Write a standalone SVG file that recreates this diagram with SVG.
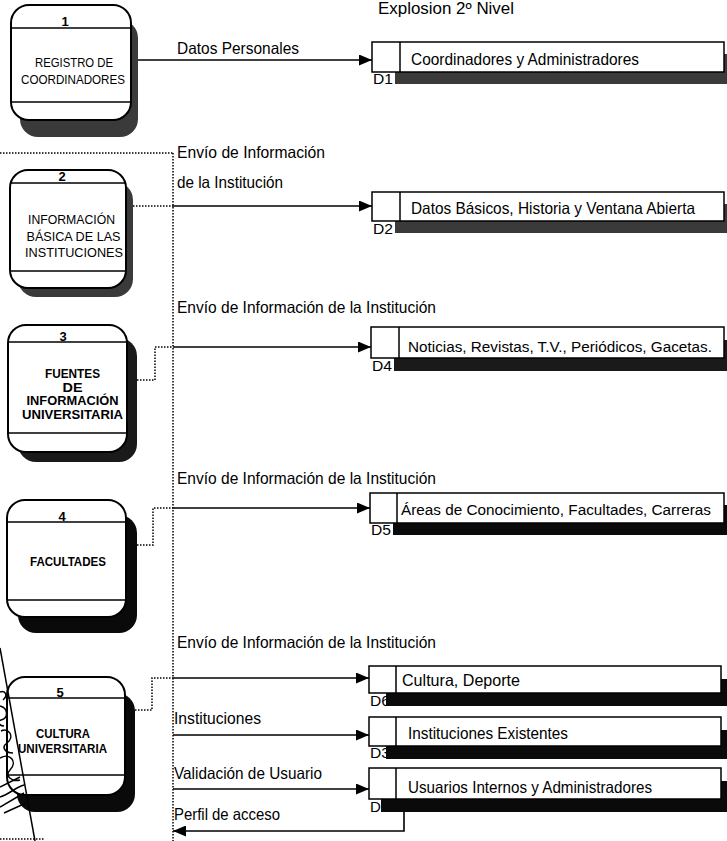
<svg xmlns="http://www.w3.org/2000/svg" width="727" height="841" viewBox="0 0 727 841">
<defs>
<style>
.node{fill:#fff;stroke:#000;stroke-width:2}
.sh1{fill:#3a3a3a}
.sh2{fill:#1a1a1a}
.sh3{fill:#0a0a0a}
.sep{stroke:#000;stroke-width:1.5}
.nt{font-family:"Liberation Sans",Arial,sans-serif;font-size:13px;text-anchor:middle;fill:#000}
.nb{font-weight:bold}
.num{font-family:"Liberation Sans",Arial,sans-serif;font-size:13px;text-anchor:middle;fill:#000;font-weight:bold}
.lbl{font-family:"Liberation Sans",Arial,sans-serif;font-size:16.5px;fill:#000}
.lbs{font-size:15.2px}
.st{fill:#fff;stroke:#000;stroke-width:1.5}
.dl{font-family:"Liberation Sans",Arial,sans-serif;font-size:15px;fill:#000}
.solid{stroke:#000;stroke-width:1.6;fill:none}
.dot{stroke:#000;stroke-width:1.5;fill:none;stroke-dasharray:1.5 1.5}
.scr{stroke:#000;stroke-width:1.5;fill:none}
</style>
<marker id="ah" markerUnits="userSpaceOnUse" markerWidth="13" markerHeight="11" refX="13" refY="5.5" orient="auto">
<path d="M0,0 L13,5.5 L0,11 z" fill="#000"/>
</marker>
</defs>
<rect width="727" height="841" fill="#fff"/>

<text class="lbl" x="378" y="14" textLength="136" lengthAdjust="spacingAndGlyphs">Explosion 2º Nivel</text>

<!-- connectors -->
<g id="connectors">
<path class="dot" d="M0,153 H173"/>
<path class="dot" d="M173,153 V841"/>
<path class="solid" d="M137,60 H372" marker-end="url(#ah)"/>
<path class="dot" d="M133,206 H173"/>
<path class="solid" d="M173,206 H372" marker-end="url(#ah)"/>
<path class="dot" d="M137,380 H155 V347 H173"/>
<path class="solid" d="M173,347 H371" marker-end="url(#ah)"/>
<path class="dot" d="M137,545 H153 V508 H173"/>
<path class="solid" d="M173,508 H370" marker-end="url(#ah)"/>
<path class="dot" d="M135,710 H152 V678 H173"/>
<path class="solid" d="M173,678 H369" marker-end="url(#ah)"/>
<path class="solid" d="M173,735 H369" marker-end="url(#ah)"/>
<path class="solid" d="M173,789 H369" marker-end="url(#ah)"/>
<path class="solid" d="M404,799 V831 H173" marker-end="url(#ah)"/>
<text class="lbl" x="177" y="54" textLength="122" lengthAdjust="spacingAndGlyphs">Datos Personales</text>
<text class="lbl" x="177" y="158" textLength="148" lengthAdjust="spacingAndGlyphs">Envío  de Información</text>
<text class="lbl" x="177" y="188" textLength="106" lengthAdjust="spacingAndGlyphs">de la Institución</text>
<text class="lbl" x="177" y="313" textLength="259" lengthAdjust="spacingAndGlyphs">Envío  de Información de la Institución</text>
<text class="lbl" x="177" y="484" textLength="259" lengthAdjust="spacingAndGlyphs">Envío  de Información de la Institución</text>
<text class="lbl" x="177" y="648" textLength="259" lengthAdjust="spacingAndGlyphs">Envío  de Información de la Institución</text>
<text class="lbl" x="174" y="724" textLength="87" lengthAdjust="spacingAndGlyphs">Instituciones</text>
<text class="lbl" x="174" y="779" textLength="148" lengthAdjust="spacingAndGlyphs">Validación de Usuario</text>
<text class="lbl" x="174" y="820" textLength="106" lengthAdjust="spacingAndGlyphs">Perfil de acceso</text>
</g>

<!-- process nodes -->
<g id="node1">
<rect class="sh1" x="20" y="20" width="118" height="117" rx="18"/>
<rect class="node" x="11" y="5" width="120" height="115" rx="18"/>
<line class="sep" x1="12" y1="28" x2="130" y2="28"/>
<line class="sep" x1="12" y1="102" x2="130" y2="102"/>
<text class="num" x="65" y="26">1</text>
<text class="nt" x="74" y="67" textLength="78" lengthAdjust="spacingAndGlyphs">REGISTRO DE</text>
<text class="nt" x="73" y="84" textLength="104" lengthAdjust="spacingAndGlyphs">COORDINADORES</text>
</g>

<g id="node2">
<rect class="sh1" x="18" y="182" width="115" height="115" rx="18"/>
<rect class="node" x="10" y="170" width="116" height="118" rx="18"/>
<line class="sep" x1="11" y1="183" x2="125" y2="183"/>
<line class="sep" x1="11" y1="271" x2="125" y2="271"/>
<text class="num" x="62" y="181">2</text>
<text class="nt" x="71.5" y="224" textLength="87" lengthAdjust="spacingAndGlyphs">INFORMACIÓN</text>
<text class="nt" x="73.5" y="241" textLength="94" lengthAdjust="spacingAndGlyphs">BÁSICA DE LAS</text>
<text class="nt" x="74" y="257" textLength="98" lengthAdjust="spacingAndGlyphs">INSTITUCIONES</text>
</g>

<g id="node3">
<rect class="sh2" x="18" y="338" width="119" height="124" rx="18"/>
<rect class="node" x="8" y="325" width="119" height="127" rx="18"/>
<line class="sep" x1="9" y1="342" x2="126" y2="342"/>
<line class="sep" x1="9" y1="433" x2="126" y2="433"/>
<text class="num" x="63" y="341">3</text>
<text class="nt nb" x="72.5" y="378" textLength="55" lengthAdjust="spacingAndGlyphs">FUENTES</text>
<text class="nt nb" x="72.5" y="391.5" textLength="20" lengthAdjust="spacingAndGlyphs">DE</text>
<text class="nt nb" x="72.5" y="405" textLength="92" lengthAdjust="spacingAndGlyphs">INFORMACIÓN</text>
<text class="nt nb" x="72.5" y="419" textLength="101" lengthAdjust="spacingAndGlyphs">UNIVERSITARIA</text>
</g>

<g id="node4">
<rect class="sh3" x="18" y="515" width="119" height="118" rx="18"/>
<rect class="node" x="7" y="500" width="119" height="117" rx="18"/>
<line class="sep" x1="8" y1="522" x2="125" y2="522"/>
<line class="sep" x1="8" y1="600" x2="125" y2="600"/>
<text class="num" x="62" y="521">4</text>
<text class="nt nb" x="68" y="566" textLength="76" lengthAdjust="spacingAndGlyphs">FACULTADES</text>
</g>

<g id="node5">
<rect class="sh3" x="17" y="693" width="118" height="119" rx="18"/>
<rect class="node" x="7" y="677" width="118" height="118" rx="18"/>
<line class="sep" x1="8" y1="698" x2="124" y2="698"/>
<line class="sep" x1="8" y1="775" x2="124" y2="775"/>
<text class="num" x="60" y="697">5</text>
<text class="nt nb" x="63" y="737.5" textLength="54" lengthAdjust="spacingAndGlyphs">CULTURA</text>
<text class="nt nb" x="62.5" y="752.5" textLength="89" lengthAdjust="spacingAndGlyphs">UNIVERSITARIA</text>
</g>

<!-- scribble (over node 5) -->
<g id="scribble">
<path class="scr" d="M0,648 L35,841"/>
<path class="scr" d="M0,692 c6,-2 8,4 3,8 M0,706 c8,2 9,12 1,14 c-4,1 -2,6 3,6 M1,731 c8,-4 14,6 6,12 c-6,4 -2,10 6,10 M0,758 c10,-6 18,4 10,12 c-6,6 2,12 10,10 M0,787 l20,-10 M0,797 c8,-2 16,-10 24,-12 M0,807 l24,-14 M4,813 l22,-10"/>
<path class="dot" d="M0,839 H45"/>
</g>

<!-- data stores -->
<g id="D1">
<rect class="sh1" x="395" y="54" width="340" height="30"/>
<rect class="st" x="372" y="42" width="352" height="30"/>
<line class="sep" x1="400" y1="42" x2="400" y2="72"/>
<text class="lbl" x="411" y="65" textLength="228" lengthAdjust="spacingAndGlyphs">Coordinadores y Administradores</text>
<text class="dl" x="373" y="84" textLength="20" lengthAdjust="spacingAndGlyphs">D1</text>
</g>

<g id="D2">
<rect class="sh1" x="395" y="204" width="340" height="29"/>
<rect class="st" x="372" y="192" width="352" height="29"/>
<line class="sep" x1="400" y1="192" x2="400" y2="221"/>
<text class="lbl" x="411" y="214" textLength="284" lengthAdjust="spacingAndGlyphs">Datos Básicos, Historia y Ventana Abierta</text>
<text class="dl" x="373" y="234" textLength="20" lengthAdjust="spacingAndGlyphs">D2</text>
</g>

<g id="D4">
<rect class="sh2" x="394" y="340" width="340" height="31"/>
<rect class="st" x="371" y="327" width="353" height="31"/>
<line class="sep" x1="399" y1="327" x2="399" y2="358"/>
<text class="lbl lbs" x="408" y="352" textLength="304" lengthAdjust="spacingAndGlyphs">Noticias, Revistas, T.V., Periódicos, Gacetas.</text>
<text class="dl" x="372" y="371" textLength="20" lengthAdjust="spacingAndGlyphs">D4</text>
</g>

<g id="D5">
<rect class="sh3" x="393" y="505" width="340" height="30"/>
<rect class="st" x="370" y="493" width="354" height="30"/>
<line class="sep" x1="397" y1="493" x2="397" y2="523"/>
<text class="lbl lbs" x="401" y="515" textLength="310" lengthAdjust="spacingAndGlyphs">Áreas de Conocimiento, Facultades, Carreras</text>
<text class="dl" x="371" y="535" textLength="20" lengthAdjust="spacingAndGlyphs">D5</text>
</g>

<g id="D6">
<text class="dl" x="370" y="706" textLength="20" lengthAdjust="spacingAndGlyphs">D6</text>
<rect class="sh3" x="386" y="679" width="350" height="27"/>
<rect class="st" x="369" y="666" width="352" height="27"/>
<line class="sep" x1="396" y1="666" x2="396" y2="693"/>
<text class="lbl" x="402" y="686" textLength="118" lengthAdjust="spacingAndGlyphs">Cultura, Deporte</text>
</g>

<g id="D3">
<text class="dl" x="370" y="758" textLength="20" lengthAdjust="spacingAndGlyphs">D3</text>
<rect class="sh3" x="386" y="730" width="350" height="29"/>
<rect class="st" x="369" y="717" width="352" height="29"/>
<line class="sep" x1="396" y1="717" x2="396" y2="746"/>
<text class="lbl" x="408" y="739" textLength="160" lengthAdjust="spacingAndGlyphs">Instituciones Existentes</text>
</g>

<g id="D7">
<text class="dl" x="370" y="812">D</text>
<rect class="sh3" x="381" y="781" width="355" height="31"/>
<rect class="st" x="369" y="768" width="352" height="31"/>
<line class="sep" x1="396" y1="768" x2="396" y2="799"/>
<text class="lbl" x="408" y="793" textLength="244" lengthAdjust="spacingAndGlyphs">Usuarios Internos y Administradores</text>
</g>
</svg>
